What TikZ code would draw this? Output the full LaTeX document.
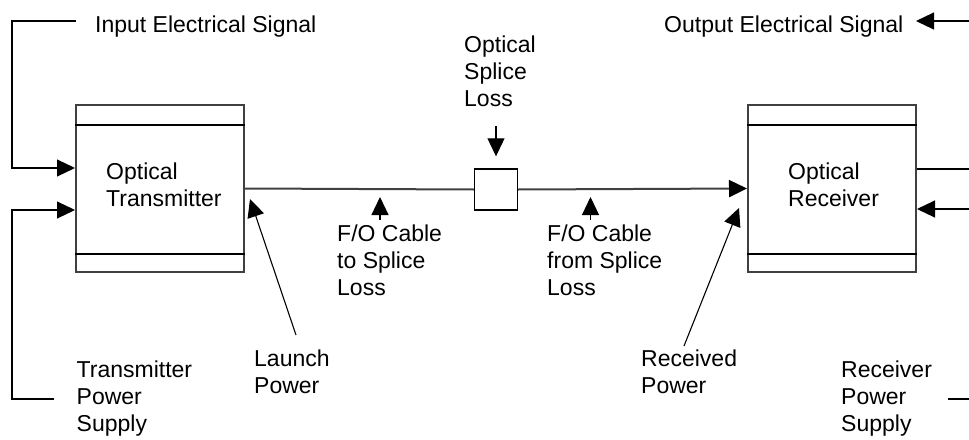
\documentclass[tikz,border=0pt]{standalone}
\usepackage{fontspec}
\setmainfont{Liberation Sans}
\usepackage{tikz}
\usetikzlibrary{arrows.meta, positioning, calc}
\definecolor{boxgray}{RGB}{64,64,64}
\definecolor{fibergray}{RGB}{64,64,64}

\begin{document}
\begin{tikzpicture}[x=1pt, y=-1pt,
    font=\fontsize{23}{27}\selectfont,
    unit/.style={draw=boxgray, line width=2pt, inner sep=0pt,
                 minimum width=168pt, minimum height=167pt},
    joint/.style={draw=black, line width=1.4pt, inner sep=0pt,
                  minimum width=43pt, minimum height=41pt},
    tag/.style={anchor=base west, align=left, inner sep=0pt},
    wire/.style={line width=1.1pt},
    fiber/.style={draw=fibergray, line width=2pt},
    tip/.style={-{Triangle[length=18pt,width=17pt,black]}}]
  \useasboundingbox (0,0) rectangle (969,439);

  % the two units and the splice
  \node[unit] (tx) at (160,188.5) {};
  \node[unit] (rx) at (832,188.5) {};
  \node[joint] (splice) at (496,189.5) {};
  \foreach \u in {tx,rx} {
    \draw[wire] ([yshift=-21pt]\u.north west) -- ([yshift=-21pt]\u.north east);
    \draw[wire] ([yshift=19pt]\u.south west) -- ([yshift=19pt]\u.south east);
  }

  % texts (base = last line)
  \node[tag] (txname) at (106,206) {Optical\\Transmitter};
  \node[tag] (rxname) at (788,206) {Optical\\Receiver};
  \node[tag] (insig) at (95,32) {Input Electrical Signal};
  \node[tag] (outsig) at (664,32) {Output Electrical Signal};
  \node[tag] (spliceloss) at (464,106) {Optical\\Splice\\Loss};
  \node[tag] (toloss) at (337,295) {F/O Cable\\to Splice\\Loss};
  \node[tag] (fromloss) at (547,295) {F/O Cable\\from Splice\\Loss};
  \node[tag] (launch) at (254,393) {Launch\\Power};
  \node[tag] (received) at (641,393) {Received\\Power};
  \node[tag] (txsupply) at (76.5,431) {Transmitter\\Power\\Supply};
  \node[tag] (rxsupply) at (841,431) {Receiver\\Power\\Supply};

  % free ends
  \coordinate (txin) at ($(tx.west)+(0,-20.5)$);
  \coordinate (txpwr) at ($(tx.west)+(0,21.5)$);
  \coordinate (rxout) at ($(rx.east)+(0,-19.5)$);
  \coordinate (rxpwr) at ($(rx.east)+(0,20.5)$);
  \coordinate (inend) at (76,21);
  \coordinate (supend) at (54,399);
  \coordinate (outtip) at (916,21);
  \coordinate (rsupend) at (948,399);

  % fibre path
  \draw[fiber] (tx.east) -- (splice.west);
  \draw[fiber, tip] (splice.east) -- (rx.west);

  % electrical connections
  \draw[wire, tip] (inend) -- ++(-64,0) |- (txin);
  \draw[wire, tip] (supend) -- ++(-42,0) |- (txpwr);
  \draw[wire, tip] (outtip -| 969,0) -- (outtip);
  \draw[wire] (rxout) -- (rxout -| 969,0);
  \draw[wire, tip] (rxpwr -| 969,0) -- (rxpwr);
  \draw[wire] (rsupend) -- (rsupend -| 969,0);

  % loss and power pointers
  \draw[wire, tip] ([yshift=42pt]splice.north) -- ([yshift=12pt]splice.north);
  \draw[wire, tip] (380,220) -- (380,197);
  \draw[wire, tip] (590.5,220) -- (590.5,197);
  \draw[wire, tip] (296,335) -- (250,199);
  \draw[wire, tip] (684,346) -- (739,208);
\end{tikzpicture}
\end{document}
